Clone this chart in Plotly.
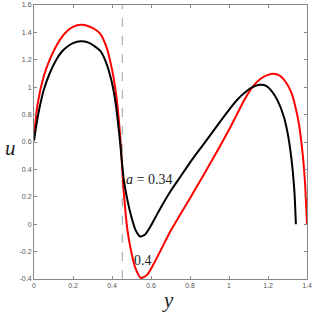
import plotly.graph_objects as go

# a = 0.34 (black)
x_black = [0.00, 0.02, 0.05, 0.08, 0.11, 0.14, 0.17, 0.20, 0.24, 0.28, 0.31, 0.34, 0.37, 0.40, 0.42,
           0.44, 0.46, 0.48, 0.50, 0.52, 0.545, 0.57, 0.60, 0.63, 0.66, 0.70, 0.75, 0.80, 0.87, 0.95,
           1.00, 1.04, 1.08, 1.12, 1.159, 1.19, 1.22, 1.25, 1.28, 1.30, 1.32, 1.335, 1.343]
u_black = [0.61, 0.79, 0.98, 1.10, 1.19, 1.255, 1.295, 1.322, 1.335, 1.325, 1.30, 1.265, 1.18, 1.03, 0.87,
           0.62, 0.33, 0.17, 0.05, -0.04, -0.09, -0.075, -0.01, 0.07, 0.145, 0.24, 0.345, 0.45, 0.585, 0.74,
           0.835, 0.905, 0.96, 1.0, 1.017, 1.01, 0.97, 0.9, 0.79, 0.67, 0.48, 0.25, 0.0]

# a = 0.4 (red)
x_red = [0.00, 0.02, 0.05, 0.08, 0.11, 0.14, 0.17, 0.20, 0.24, 0.28, 0.31, 0.34, 0.37, 0.40, 0.42,
         0.44, 0.46, 0.48, 0.50, 0.52, 0.549, 0.58, 0.61, 0.65, 0.70, 0.75, 0.80, 0.87, 0.95, 1.00,
         1.04, 1.08, 1.12, 1.16, 1.20, 1.227, 1.26, 1.29, 1.32, 1.34, 1.36, 1.38, 1.39, 1.40]
u_red = [0.65, 0.89, 1.08, 1.20, 1.29, 1.36, 1.41, 1.44, 1.455, 1.445, 1.425, 1.39, 1.30, 1.13, 0.96,
         0.68, 0.24, -0.05, -0.21, -0.32, -0.393, -0.37, -0.30, -0.19, -0.05, 0.07, 0.19, 0.36, 0.56, 0.69,
         0.80, 0.91, 1.00, 1.06, 1.09, 1.098, 1.085, 1.04, 0.96, 0.86, 0.72, 0.48, 0.30, 0.0]

x_ticks = [0, 0.2, 0.4, 0.6, 0.8, 1.0, 1.2, 1.4]
x_tick_labels = ["0", "0.2", "0.4", "0.6", "0.8", "1", "1.2", "1.4"]
y_ticks = [-0.4, -0.2, 0, 0.2, 0.4, 0.6, 0.8, 1.0, 1.2, 1.4, 1.6]
y_tick_labels = ["-0.4", "-0.2", "0", "0.2", "0.4", "0.6", "0.8", "1", "1.2", "1.4", "1.6"]

dash_x = 0.453
labels = [("<i>a</i> = 0.34", 0.463, 0.324), ("0.4", 0.503, -0.265)]

fig = go.Figure()
fig.add_trace(go.Scatter(x=[dash_x, dash_x], y=[-0.4, 1.6], mode="lines",
                         line=dict(color="#b0b0b0", width=1.2, dash="dash"), showlegend=False))
fig.add_trace(go.Scatter(x=x_red, y=u_red, mode="lines",
                         line=dict(color="#ff0000", width=2, shape="spline", smoothing=0.6),
                         showlegend=False))
fig.add_trace(go.Scatter(x=x_black, y=u_black, mode="lines",
                         line=dict(color="#000000", width=2, shape="spline", smoothing=0.6),
                         showlegend=False))

for txt, lx, ly in labels:
    fig.add_annotation(x=lx, y=ly, text=txt, showarrow=False, xanchor="left", yanchor="middle",
                       font=dict(family="Liberation Serif", size=14, color="#222222"))

title_font = dict(family="Liberation Serif", size=21, color="#222222")
fig.add_annotation(xref="paper", yref="paper", x=0.49, y=0, yshift=-21, text="<i>y</i>",
                   showarrow=False, xanchor="center", yanchor="middle", font=title_font)
fig.add_annotation(xref="paper", yref="paper", x=0, xshift=-24, y=0.478, text="<i>u</i>",
                   showarrow=False, xanchor="center", yanchor="middle", font=title_font)

axis_common = dict(showgrid=False, zeroline=False, showline=True, linecolor="#888888", linewidth=1,
                   mirror="ticks", ticks="inside", ticklen=3, tickcolor="#888888", automargin=False,
                   tickfont=dict(family="Liberation Sans", size=7, color="#555555"))
fig.update_xaxes(range=[0, 1.4], tickvals=x_ticks, ticktext=x_tick_labels, **axis_common)
fig.update_yaxes(range=[-0.4, 1.6], tickvals=y_ticks, ticktext=y_tick_labels, **axis_common)
fig.update_layout(width=316, height=314, margin=dict(l=34, r=9, t=5, b=35),
                  plot_bgcolor="white", paper_bgcolor="white")
fig.write_html("out.html", config={"displayModeBar": False},
               post_script="document.body.style.margin='0px';")
